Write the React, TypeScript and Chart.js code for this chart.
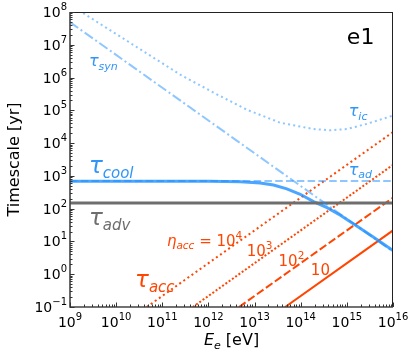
import React, { useEffect, useRef } from 'react';
import { Chart, registerables } from 'chart.js';

Chart.register(...registerables);

// ---- tick values / labels (base 10, exponent shown as superscript) ----
const xTickValues = [1e9, 1e10, 1e11, 1e12, 1e13, 1e14, 1e15, 1e16];
const xTickExponents = ['9', '10', '11', '12', '13', '14', '15', '16'];
const yTickValues = [1e-1, 1e0, 1e1, 1e2, 1e3, 1e4, 1e5, 1e6, 1e7, 1e8];
const yTickExponents = ['−1', '0', '1', '2', '3', '4', '5', '6', '7', '8'];

// ---- series (energy in eV, timescale in yr) ----
const synEnergy = [1e9, 1e16];
const synTime = [4.9e7, 4.9];

const icEnergy = [1e9, 2.45e11, 1.29e12, 6.76e12, 3.63e13, 1.9e14, 4.37e14, 1e15, 2.75e15, 1e16];
const icTime = [1.66e8, 1.23e6, 3.47e5, 1.05e5, 4.17e4, 2.69e4, 2.45e4, 2.69e4, 3.89e4, 6.9e4];

const adEnergy = [1e9, 1e16];
const adTime = [700, 700];

const advEnergy = [1e9, 1e16];
const advTime = [148, 148];

const coolEnergy = [1e9, 1e12, 4.9e12, 1.32e13, 2.57e13, 5.01e13, 9.77e13, 1.9e14, 3.72e14, 7.24e14, 1.41e15, 3.8e15, 1e16];
const coolTime = [690, 688, 660, 605, 525, 400, 275, 165, 107, 63, 34, 13.5, 5.25];

const acc1e4Energy = [4.6e10, 1e16];
const acc1e4Time = [0.1, 2.17e4];
const acc1e3Energy = [4.6e11, 1e16];
const acc1e3Time = [0.1, 2.17e3];
const acc1e2Energy = [4.6e12, 1e16];
const acc1e2Time = [0.1, 217];
const acc10Energy = [4.6e13, 1e16];
const acc10Time = [0.1, 21.7];

// ---- styles ----
const FONT = '"DejaVu Sans", sans-serif';
const LIGHT_BLUE = 'rgba(30,144,255,0.5)';
const COOL_BLUE = 'rgba(30,144,255,0.8)';
const LABEL_BLUE = '#2f95f7';
const ORANGE = '#ff4500';
const GRAY = '#6e6e6e';

const pts = (xs: number[], ys: number[]) => xs.map((x, i) => ({ x, y: ys[i] }));

type Part = { t: string; size: number; italic?: boolean; dy?: number };
type Label = { ex: number; ey: number; color: string; parts: Part[] };

const bigTau = (sub: string): Part[] => [
  { t: 'τ', size: 23, italic: true },
  { t: sub, size: 15, italic: true, dy: 5 },
];
const smallTau = (sub: string): Part[] => [
  { t: 'τ', size: 16, italic: true },
  { t: sub, size: 11, italic: true, dy: 3.5 },
];

// annotation placement (log10 data coordinates, baseline-left)
const labels: Label[] = [
  { ex: 9.41, ey: 6.35, color: LABEL_BLUE, parts: smallTau('syn') },
  { ex: 9.41, ey: 3.10, color: LABEL_BLUE, parts: bigTau('cool') },
  { ex: 9.41, ey: 1.51, color: GRAY, parts: bigTau('adv') },
  { ex: 10.41, ey: -0.38, color: ORANGE, parts: bigTau('acc') },
  { ex: 15.04, ey: 4.82, color: LABEL_BLUE, parts: smallTau('ic') },
  { ex: 15.04, ey: 3.04, color: LABEL_BLUE, parts: smallTau('ad') },
  {
    ex: 11.10, ey: 0.85, color: ORANGE, parts: [
      { t: 'η', size: 15, italic: true },
      { t: 'acc', size: 10.5, italic: true, dy: 3 },
      { t: ' = 10', size: 15 },
      { t: '4', size: 10.5, dy: -7 },
    ]
  },
  { ex: 12.83, ey: 0.56, color: ORANGE, parts: [{ t: '10', size: 15 }, { t: '3', size: 10.5, dy: -7 }] },
  { ex: 13.52, ey: 0.26, color: ORANGE, parts: [{ t: '10', size: 15 }, { t: '2', size: 10.5, dy: -7 }] },
  { ex: 14.22, ey: -0.02, color: ORANGE, parts: [{ t: '10', size: 15 }] },
  { ex: 15.0, ey: 7.01, color: '#000', parts: [{ t: 'e1', size: 22 }] },
];

const xTitleParts: Part[] = [
  { t: 'E', size: 16, italic: true },
  { t: 'e', size: 11, italic: true, dy: 4 },
  { t: ' [eV]', size: 16 },
];

function drawParts(ctx: CanvasRenderingContext2D, parts: Part[], x: number, y: number, align: 'left' | 'center' | 'right') {
  let w = 0;
  for (const p of parts) {
    ctx.font = `${p.italic ? 'oblique ' : ''}${p.size}px ${FONT}`;
    w += ctx.measureText(p.t).width;
  }
  let px = align === 'left' ? x : align === 'center' ? x - w / 2 : x - w;
  for (const p of parts) {
    ctx.font = `${p.italic ? 'oblique ' : ''}${p.size}px ${FONT}`;
    ctx.fillText(p.t, px, y + (p.dy || 0));
    px += ctx.measureText(p.t).width;
  }
}

const powParts = (exp: string): Part[] => [
  { t: '10', size: 14 },
  { t: exp, size: 10, dy: -7 },
];

const decorPlugin = {
  id: 'decor',
  afterDatasetsDraw(chart: any) {
    const { ctx, chartArea: a, scales } = chart;
    const xs = scales.x;
    const ys = scales.y;
    ctx.save();
    // spines
    ctx.strokeStyle = '#222';
    ctx.lineWidth = 1;
    ctx.beginPath();
    ctx.moveTo(a.left, a.top + 0.5);
    ctx.lineTo(a.right, a.top + 0.5);
    ctx.moveTo(a.right - 0.5, a.top);
    ctx.lineTo(a.right - 0.5, a.bottom);
    ctx.stroke();
    ctx.strokeStyle = '#444';
    ctx.lineWidth = 1.6;
    ctx.beginPath();
    ctx.moveTo(a.left, a.top);
    ctx.lineTo(a.left, a.bottom);
    ctx.lineTo(a.right, a.bottom);
    ctx.stroke();
    // ticks (inward)
    ctx.lineWidth = 1;
    ctx.strokeStyle = '#333';
    ctx.beginPath();
    for (let e = 9; e <= 16; e++) {
      for (let m = 1; m <= 9; m++) {
        const v = m * Math.pow(10, e);
        if (v > 1e16 * 1.0001) break;
        const px = Math.round(xs.getPixelForValue(v)) + 0.5;
        const len = m === 1 ? 4.5 : 2.5;
        ctx.moveTo(px, a.bottom);
        ctx.lineTo(px, a.bottom - len);
      }
    }
    for (let e = -1; e <= 8; e++) {
      for (let m = 1; m <= 9; m++) {
        const v = m * Math.pow(10, e);
        if (v > 1e8 * 1.0001) break;
        const py = Math.round(ys.getPixelForValue(v)) + 0.5;
        const len = m === 1 ? 4.5 : 2.5;
        ctx.moveTo(a.left, py);
        ctx.lineTo(a.left + len, py);
      }
    }
    ctx.stroke();

    ctx.textBaseline = 'alphabetic';
    ctx.textAlign = 'left';
    // tick labels
    ctx.fillStyle = '#000';
    xTickValues.forEach((v, i) => {
      drawParts(ctx, powParts(xTickExponents[i]), xs.getPixelForValue(v), a.bottom + 20, 'center');
    });
    yTickValues.forEach((v, i) => {
      drawParts(ctx, powParts(yTickExponents[i]), a.left - 3, ys.getPixelForValue(v) + 5, 'right');
    });
    // x axis title
    drawParts(ctx, xTitleParts, (a.left + a.right) / 2, 345, 'center');

    // annotations
    for (const lb of labels) {
      ctx.fillStyle = lb.color;
      drawParts(ctx, lb.parts, xs.getPixelForValue(Math.pow(10, lb.ex)), ys.getPixelForValue(Math.pow(10, lb.ey)), 'left');
    }
    ctx.restore();
  },
};

export default function App() {
  const ref = useRef<HTMLCanvasElement | null>(null);
  useEffect(() => {
    if (!ref.current) return;
    const line = (label: string, xs: number[], ys: number[], color: string, width: number, dash: number[]) => ({
      label,
      data: pts(xs, ys),
      borderColor: color,
      backgroundColor: color,
      borderWidth: width,
      borderDash: dash,
      borderCapStyle: 'butt',
      pointRadius: 0,
      fill: false,
      tension: 0,
    });
    const chart = new Chart(ref.current, {
      type: 'line',
      data: {
        datasets: [
          line('τ_syn', synEnergy, synTime, LIGHT_BLUE, 2, [10, 3, 2, 3]),
          line('τ_ic', icEnergy, icTime, LIGHT_BLUE, 2, [2, 3.2]),
          line('τ_ad', adEnergy, adTime, LIGHT_BLUE, 2, [7.5, 3.3]),
          line('τ_adv', advEnergy, advTime, GRAY, 3, []),
          line('τ_cool', coolEnergy, coolTime, COOL_BLUE, 3, []),
          line('η=1e4', acc1e4Energy, acc1e4Time, ORANGE, 2, [2, 3]),
          line('η=1e3', acc1e3Energy, acc1e3Time, ORANGE, 2, [2, 2]),
          line('η=1e2', acc1e2Energy, acc1e2Time, ORANGE, 2, [8, 3]),
          line('η=10', acc10Energy, acc10Time, ORANGE, 2, []),
        ] as any,
      },
      options: {
        animation: false,
        responsive: false,
        devicePixelRatio: 1,
        layout: { padding: { left: 0, top: 12, right: 23, bottom: 0 } },
        plugins: { legend: { display: false }, tooltip: { enabled: false } },
        scales: {
          x: {
            type: 'logarithmic',
            min: 1e9,
            max: 1e16,
            grid: { display: false, drawTicks: false },
            border: { display: false },
            afterBuildTicks: (s: any) => { s.ticks = xTickValues.map((v) => ({ value: v })); },
            afterFit: (s: any) => { s.height = 51; },
            ticks: { display: false, autoSkip: false, maxRotation: 0, minRotation: 0 },
            title: { display: false, text: 'Eₑ [eV]' },
          },
          y: {
            type: 'logarithmic',
            min: 1e-1,
            max: 1e8,
            grid: { display: false, drawTicks: false },
            border: { display: false },
            afterBuildTicks: (s: any) => { s.ticks = yTickValues.map((v) => ({ value: v })); },
            afterFit: (s: any) => { s.width = 70; },
            ticks: { display: false, autoSkip: false },
            title: {
              display: true,
              text: 'Timescale [yr]',
              color: '#000',
              font: { family: FONT, size: 16 },
              padding: { top: 5, bottom: 0 },
            },
          },
        },
      } as any,
      plugins: [decorPlugin],
    });
    return () => chart.destroy();
  }, []);
  return (
    <div style={{ position: 'absolute', left: 0, top: 0, width: 416, height: 358 }}>
      <canvas ref={ref} width={416} height={358} style={{ display: 'block' }} />
    </div>
  );
}
